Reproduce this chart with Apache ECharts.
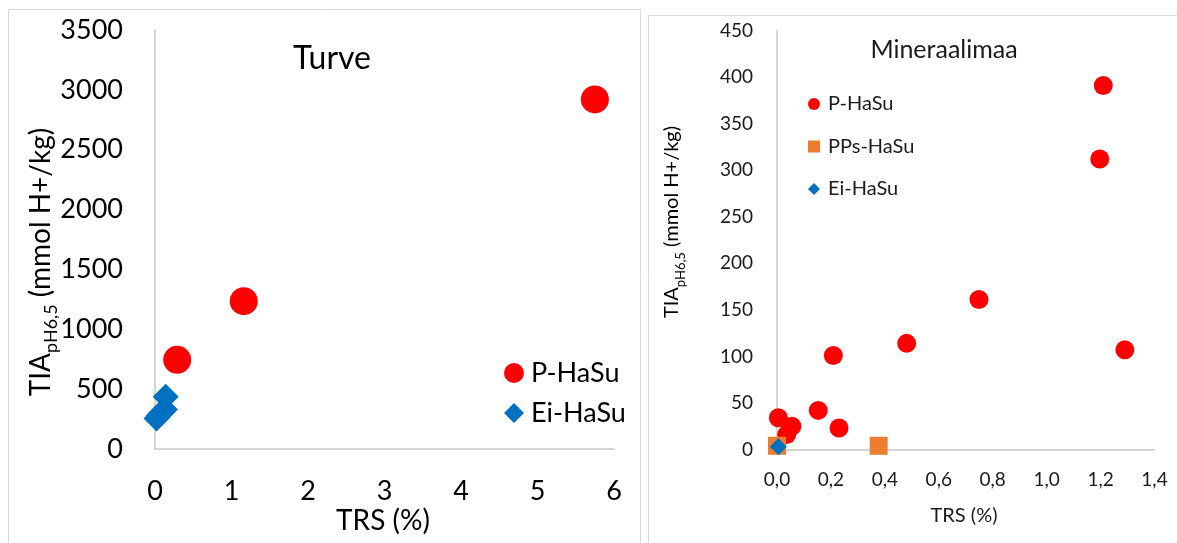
<!DOCTYPE html>
<html>
<head>
<meta charset="utf-8">
<script src="https://cdn.jsdelivr.net/npm/echarts@6/dist/echarts.min.js"></script>
<style>
html,body{margin:0;padding:0;background:#fff;}
#c{width:1177px;height:543px;}
</style>
</head>
<body>
<div id="c"></div>
<script>
// Left panel (Turve)
const turveTitle = 'Turve';
const turvePHaSu = [[0.29, 745], [1.16, 1235], [5.75, 2920]];
const turveEiHaSu = [[0.14, 437], [0.13, 330], [0.08, 300], [0.05, 280], [0.02, 255]];
const turveXTicks = [0, 1, 2, 3, 4, 5, 6];
const turveYTicks = [0, 500, 1000, 1500, 2000, 2500, 3000, 3500];

// Right panel (Mineraalimaa)
const minTitle = 'Mineraalimaa';
const minPHaSu = [[0.005, 34], [0.036, 16], [0.055, 25], [0.153, 42], [0.209, 101], [0.23, 23],
                  [0.481, 114], [0.749, 161], [1.197, 312], [1.21, 391], [1.29, 107]];
const minPPsHaSu = [[0.0, 4], [0.377, 4]];
const minEiHaSu = [[0.005, 3]];
const minXTicks = [0, 0.2, 0.4, 0.6, 0.8, 1.0, 1.2, 1.4];
const minYTicks = [0, 50, 100, 150, 200, 250, 300, 350, 400, 450];

const FONT = 'Lato';
const RED = '#ff0000', BLUE = '#0070c0', ORANGE = '#ed7d31';
const AXIS_COLOR = '#c8c8c8';

const chart = echarts.init(document.getElementById('c'));

function yNameText(size, sub) {
  return {
    text: '{a|TIA}{s|pH6,5}{a| (mmol H+/kg)}',
    rich: {
      a: { fontSize: size, fontFamily: FONT, fill: '#000', lineHeight: size + 10 },
      s: { fontSize: sub, fontFamily: FONT, fill: '#000', lineHeight: sub, verticalAlign: 'bottom' }
    },
    align: 'center',
    verticalAlign: 'middle'
  };
}

const option = {
  backgroundColor: '#fff',
  animation: false,
  title: [
    { text: turveTitle, left: 327, top: 54, textAlign: 'center', textVerticalAlign: 'middle',
      textStyle: { fontFamily: FONT, fontSize: 32, fontWeight: 'normal', color: '#000' } },
    { text: minTitle, left: 939, top: 45, textAlign: 'center', textVerticalAlign: 'middle',
      textStyle: { fontFamily: FONT, fontSize: 25, fontWeight: 'normal', color: '#1a1a1a' } }
  ],
  legend: [
    { data: ['P-HaSu', 'Ei-HaSu'], orient: 'vertical', left: 499, top: 353,
      itemWidth: 20, itemHeight: 20, itemGap: 10,
      textStyle: { fontFamily: FONT, fontSize: 27, color: '#000', lineHeight: 30, padding: [0, 0, 0, 2] } },
    { data: ['P-HaSu', 'PPs-HaSu', 'Ei-HaSu'], orient: 'vertical', left: 803, top: 87,
      itemWidth: 12, itemHeight: 12, itemGap: 18.5,
      textStyle: { fontFamily: FONT, fontSize: 20, color: '#1a1a1a', lineHeight: 24, padding: [0, 0, 0, 3] } }
  ],
  grid: [
    { left: 155, right: 563, top: 30, bottom: 94 },
    { left: 777, right: 22.5, top: 30.5, bottom: 93.5 }
  ],
  xAxis: [
    { gridIndex: 0, type: 'value', min: turveXTicks[0], max: turveXTicks[turveXTicks.length - 1], interval: 1,
      splitLine: { show: false }, axisTick: { show: false },
      axisLine: { lineStyle: { color: AXIS_COLOR, width: 1.5 } },
      axisLabel: { fontFamily: FONT, fontSize: 27, color: '#000', margin: 29, formatter: v => String(v) } },
    { gridIndex: 1, type: 'value', min: minXTicks[0], max: minXTicks[minXTicks.length - 1], interval: 0.2,
      splitLine: { show: false }, axisTick: { show: false },
      axisLine: { lineStyle: { color: AXIS_COLOR, width: 1.5 } },
      axisLabel: { fontFamily: FONT, fontSize: 19, color: '#1a1a1a', margin: 21,
        formatter: v => v.toFixed(1).replace('.', ',') } }
  ],
  yAxis: [
    { gridIndex: 0, type: 'value', min: turveYTicks[0], max: turveYTicks[turveYTicks.length - 1], interval: 500,
      splitLine: { show: false }, axisTick: { show: false },
      axisLine: { show: true, lineStyle: { color: AXIS_COLOR, width: 1.5 } },
      axisLabel: { fontFamily: FONT, fontSize: 27, color: '#000', margin: 32, formatter: v => String(v) } },
    { gridIndex: 1, type: 'value', min: minYTicks[0], max: minYTicks[minYTicks.length - 1], interval: 50,
      splitLine: { show: false }, axisTick: { show: false },
      axisLine: { show: true, lineStyle: { color: AXIS_COLOR, width: 1.5 } },
      axisLabel: { fontFamily: FONT, fontSize: 19, color: '#1a1a1a', margin: 24, formatter: v => String(v) } }
  ],
  series: [
    { name: 'P-HaSu', type: 'scatter', xAxisIndex: 0, yAxisIndex: 0, data: turvePHaSu,
      symbol: 'circle', symbolSize: 28, itemStyle: { color: RED, opacity: 1 } },
    { name: 'Ei-HaSu', type: 'scatter', xAxisIndex: 0, yAxisIndex: 0, data: turveEiHaSu,
      symbol: 'diamond', symbolSize: 26, itemStyle: { color: BLUE, opacity: 1 } },
    { name: 'P-HaSu', type: 'scatter', xAxisIndex: 1, yAxisIndex: 1, data: minPHaSu,
      symbol: 'circle', symbolSize: 19, itemStyle: { color: RED, opacity: 1 } },
    { name: 'PPs-HaSu', type: 'scatter', xAxisIndex: 1, yAxisIndex: 1, data: minPPsHaSu,
      symbol: 'rect', symbolSize: 18, itemStyle: { color: ORANGE, opacity: 1 } },
    { name: 'Ei-HaSu', type: 'scatter', xAxisIndex: 1, yAxisIndex: 1, data: minEiHaSu,
      symbol: 'diamond', symbolSize: 17, itemStyle: { color: BLUE, opacity: 1 } }
  ],
  graphic: [
    { type: 'rect', z: -10, shape: { x: 8.5, y: 9.5, width: 632, height: 545 },
      style: { fill: 'none', stroke: '#d9d9d9', lineWidth: 1 } },
    { type: 'rect', z: -10, shape: { x: 648.5, y: 15.5, width: 540, height: 545 },
      style: { fill: 'none', stroke: '#d9d9d9', lineWidth: 1 } },
    { type: 'text', x: 41, y: 262, rotation: Math.PI / 2, style: yNameText(28, 18) },
    { type: 'text', x: 672, y: 222, rotation: Math.PI / 2, style: yNameText(20, 13) },
    { type: 'text', x: 383, y: 521, style: { text: 'TRS (%)', font: '28px Lato', fill: '#000', align: 'center', verticalAlign: 'middle' } },
    { type: 'text', x: 964, y: 516, style: { text: 'TRS (%)', font: '20px Lato', fill: '#1a1a1a', align: 'center', verticalAlign: 'middle' } }
  ]
};
chart.setOption(option);
</script>
</body>
</html>
